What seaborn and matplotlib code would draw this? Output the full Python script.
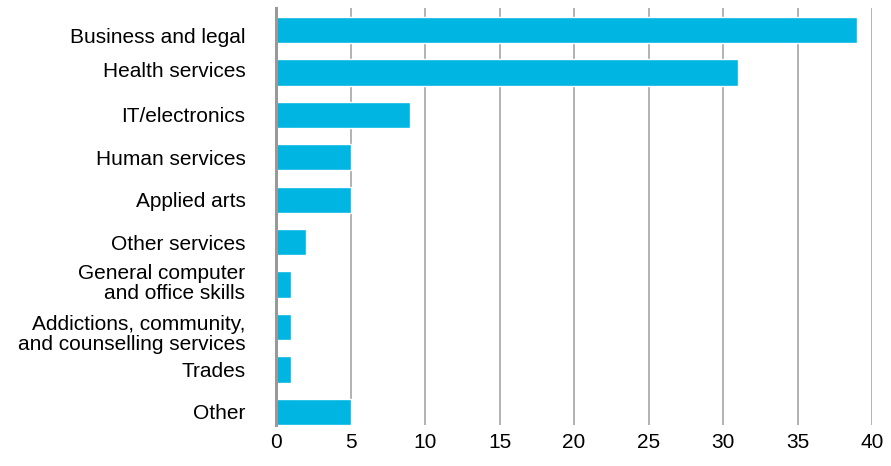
import matplotlib
matplotlib.use("Agg")
import matplotlib.pyplot as plt
import matplotlib.transforms as mtransforms
import seaborn as sns
import pandas as pd

# Data
categories = [
    "Business and legal",
    "Health services",
    "IT/electronics",
    "Human services",
    "Applied arts",
    "Other services",
    "General computer\nand office skills",
    "Addictions, community,\nand counselling services",
    "Trades",
    "Other",
]
values = [39, 31, 9, 5, 5, 2, 1, 1, 1, 5]
x_ticks = [0, 5, 10, 15, 20, 25, 30, 35, 40]

# small vertical nudges of the category labels (px, + = down), as in the original
label_shift = [5, -2.5, 0, 0, 0, 0, -4, 4.5, 0, 0]

df = pd.DataFrame({"category": categories, "value": values})

sns.set_style("white")
plt.rcParams["font.family"] = ["Liberation Sans", "DejaVu Sans"]
plt.rcParams["text.color"] = "black"

fig = plt.figure(figsize=(8.91, 4.66), dpi=100)
ax = fig.add_axes([0.3098, 0.088, 0.6689, 0.8948])

sns.barplot(data=df, y="category", x="value", orient="h", color="#00B5E2",
            saturation=1, width=0.62, ax=ax, zorder=3)

ax.set_xlim(0, 40)
ax.set_ylim(9.31, -0.52)
ax.set_xticks(x_ticks)
ax.set_xticklabels([str(t) for t in x_ticks], fontsize=15)
ax.tick_params(axis="y", labelsize=15, length=0, pad=22, labelcolor="black")
ax.tick_params(axis="x", length=0, pad=6, labelcolor="black")
for lbl, dy in zip(ax.get_yticklabels(), label_shift):
    lbl.set_horizontalalignment("right")
    lbl.set_multialignment("right")
    lbl.set_linespacing(1.12)
    off = mtransforms.ScaledTranslation(0, -dy / 100, fig.dpi_scale_trans)
    lbl.set_transform(lbl.get_transform() + off)

ax.set_xlabel("")
ax.set_ylabel("")

ax.grid(False)
for t in x_ticks[1:]:
    ax.axvline(t, color="#A6A6A6", lw=1.2, zorder=1)

for s in ["top", "right", "bottom"]:
    ax.spines[s].set_visible(False)
ax.spines["left"].set_color("#999999")
ax.spines["left"].set_linewidth(2.2)
ax.spines["left"].set_zorder(4)

fig.savefig("out.png", dpi=100)
